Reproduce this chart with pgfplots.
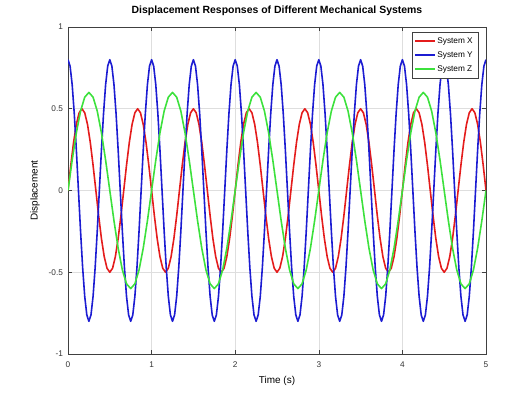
\documentclass[border=0pt]{standalone}
\usepackage{fontspec}
\setmainfont{Liberation Sans}
\usepackage{pgfplots}
\pgfplotsset{compat=1.18}
\definecolor{sysred}{RGB}{228,28,28}
\definecolor{sysblue}{RGB}{28,28,210}
\definecolor{sysgreen}{RGB}{60,225,60}
\begin{document}
\begin{tikzpicture}
\begin{axis}[
  scale only axis, width=418bp, height=327bp,
  xmin=0, xmax=5, ymin=-1, ymax=1,
  xtick={0,1,2,3,4,5}, xticklabels={0,1,2,3,4,5},
  ytick={-1,-0.5,0,0.5,1}, yticklabels={-1,-0.5,0,0.5,1},
  tick align=inside, major tick length=4bp,
  grid=major, grid style={black!13, line width=0.5pt},
  axis line style={black!75, line width=0.6pt},
  tick style={black!75, line width=0.6pt},
  ticklabel style={font=\fontsize{8.3}{9}\selectfont, text=black!80},
  xticklabel style={yshift=-4.5bp},
  yticklabel style={xshift=-1.5bp},
  xlabel={Time (s)}, ylabel={Displacement},
  label style={font=\fontsize{10}{12}\selectfont},
  xlabel style={at={(0.5,0)}, anchor=base, yshift=-29bp},
  ylabel style={at={(0,0.5)}, anchor=center, xshift=0bp, yshift=33bp},
  title={Displacement Responses of Different Mechanical Systems},
  title style={font=\bfseries\fontsize{10.5}{12}\selectfont, at={(0.5,1)}, anchor=base, yshift=8bp},
  legend style={at={(1,1)}, anchor=north east, xshift=-8bp, yshift=-5bp,
    font=\fontsize{8.3}{9}\selectfont, draw=black!75, line width=0.5pt,
    inner xsep=3pt, inner ysep=3pt, row sep=3pt},
  legend cell align=left,
  legend image code/.code={\fill[#1, draw=none] (0bp,-1bp) rectangle (20bp,1bp);},
]
\addplot[color=sysred, line width=1.6pt, line join=round] coordinates {
(0,0)(0.0333,0.1545)(0.0667,0.2939)(0.1,0.4045)(0.1333,0.4755)(0.1667,0.5)(0.2,0.4755)(0.2333,0.4045)(0.2667,0.2939)(0.3,0.1545)
(0.3333,0)(0.3667,-0.1545)(0.4,-0.2939)(0.4333,-0.4045)(0.4667,-0.4755)(0.5,-0.5)(0.5333,-0.4755)(0.5667,-0.4045)(0.6,-0.2939)(0.6333,-0.1545)
(0.6667,0)(0.7,0.1545)(0.7333,0.2939)(0.7667,0.4045)(0.8,0.4755)(0.8333,0.5)(0.8667,0.4755)(0.9,0.4045)(0.9333,0.2939)(0.9667,0.1545)
(1,0)(1.0333,-0.1545)(1.0667,-0.2939)(1.1,-0.4045)(1.1333,-0.4755)(1.1667,-0.5)(1.2,-0.4755)(1.2333,-0.4045)(1.2667,-0.2939)(1.3,-0.1545)
(1.3333,0)(1.3667,0.1545)(1.4,0.2939)(1.4333,0.4045)(1.4667,0.4755)(1.5,0.5)(1.5333,0.4755)(1.5667,0.4045)(1.6,0.2939)(1.6333,0.1545)
(1.6667,0)(1.7,-0.1545)(1.7333,-0.2939)(1.7667,-0.4045)(1.8,-0.4755)(1.8333,-0.5)(1.8667,-0.4755)(1.9,-0.4045)(1.9333,-0.2939)(1.9667,-0.1545)
(2,0)(2.0333,0.1545)(2.0667,0.2939)(2.1,0.4045)(2.1333,0.4755)(2.1667,0.5)(2.2,0.4755)(2.2333,0.4045)(2.2667,0.2939)(2.3,0.1545)
(2.3333,0)(2.3667,-0.1545)(2.4,-0.2939)(2.4333,-0.4045)(2.4667,-0.4755)(2.5,-0.5)(2.5333,-0.4755)(2.5667,-0.4045)(2.6,-0.2939)(2.6333,-0.1545)
(2.6667,0)(2.7,0.1545)(2.7333,0.2939)(2.7667,0.4045)(2.8,0.4755)(2.8333,0.5)(2.8667,0.4755)(2.9,0.4045)(2.9333,0.2939)(2.9667,0.1545)
(3,0)(3.0333,-0.1545)(3.0667,-0.2939)(3.1,-0.4045)(3.1333,-0.4755)(3.1667,-0.5)(3.2,-0.4755)(3.2333,-0.4045)(3.2667,-0.2939)(3.3,-0.1545)
(3.3333,0)(3.3667,0.1545)(3.4,0.2939)(3.4333,0.4045)(3.4667,0.4755)(3.5,0.5)(3.5333,0.4755)(3.5667,0.4045)(3.6,0.2939)(3.6333,0.1545)
(3.6667,0)(3.7,-0.1545)(3.7333,-0.2939)(3.7667,-0.4045)(3.8,-0.4755)(3.8333,-0.5)(3.8667,-0.4755)(3.9,-0.4045)(3.9333,-0.2939)(3.9667,-0.1545)
(4,0)(4.0333,0.1545)(4.0667,0.2939)(4.1,0.4045)(4.1333,0.4755)(4.1667,0.5)(4.2,0.4755)(4.2333,0.4045)(4.2667,0.2939)(4.3,0.1545)
(4.3333,0)(4.3667,-0.1545)(4.4,-0.2939)(4.4333,-0.4045)(4.4667,-0.4755)(4.5,-0.5)(4.5333,-0.4755)(4.5667,-0.4045)(4.6,-0.2939)(4.6333,-0.1545)
(4.6667,0)(4.7,0.1545)(4.7333,0.2939)(4.7667,0.4045)(4.8,0.4755)(4.8333,0.5)(4.8667,0.4755)(4.9,0.4045)(4.9333,0.2939)(4.9667,0.1545)
(5,0)
};
\addlegendentry{System X}
\addplot[color=sysblue, line width=1.6pt, line join=round] coordinates {
(0,0.8)(0.025,0.7608)(0.05,0.6472)(0.075,0.4702)(0.1,0.2472)(0.125,0)(0.15,-0.2472)(0.175,-0.4702)(0.2,-0.6472)(0.225,-0.7608)(0.25,-0.8)(0.275,-0.7608)(0.3,-0.6472)(0.325,-0.4702)(0.35,-0.2472)(0.375,0)(0.4,0.2472)(0.425,0.4702)(0.45,0.6472)(0.475,0.7608)
(0.5,0.8)(0.525,0.7608)(0.55,0.6472)(0.575,0.4702)(0.6,0.2472)(0.625,0)(0.65,-0.2472)(0.675,-0.4702)(0.7,-0.6472)(0.725,-0.7608)(0.75,-0.8)(0.775,-0.7608)(0.8,-0.6472)(0.825,-0.4702)(0.85,-0.2472)(0.875,0)(0.9,0.2472)(0.925,0.4702)(0.95,0.6472)(0.975,0.7608)
(1,0.8)(1.025,0.7608)(1.05,0.6472)(1.075,0.4702)(1.1,0.2472)(1.125,0)(1.15,-0.2472)(1.175,-0.4702)(1.2,-0.6472)(1.225,-0.7608)(1.25,-0.8)(1.275,-0.7608)(1.3,-0.6472)(1.325,-0.4702)(1.35,-0.2472)(1.375,0)(1.4,0.2472)(1.425,0.4702)(1.45,0.6472)(1.475,0.7608)
(1.5,0.8)(1.525,0.7608)(1.55,0.6472)(1.575,0.4702)(1.6,0.2472)(1.625,0)(1.65,-0.2472)(1.675,-0.4702)(1.7,-0.6472)(1.725,-0.7608)(1.75,-0.8)(1.775,-0.7608)(1.8,-0.6472)(1.825,-0.4702)(1.85,-0.2472)(1.875,0)(1.9,0.2472)(1.925,0.4702)(1.95,0.6472)(1.975,0.7608)
(2,0.8)(2.025,0.7608)(2.05,0.6472)(2.075,0.4702)(2.1,0.2472)(2.125,0)(2.15,-0.2472)(2.175,-0.4702)(2.2,-0.6472)(2.225,-0.7608)(2.25,-0.8)(2.275,-0.7608)(2.3,-0.6472)(2.325,-0.4702)(2.35,-0.2472)(2.375,0)(2.4,0.2472)(2.425,0.4702)(2.45,0.6472)(2.475,0.7608)
(2.5,0.8)(2.525,0.7608)(2.55,0.6472)(2.575,0.4702)(2.6,0.2472)(2.625,0)(2.65,-0.2472)(2.675,-0.4702)(2.7,-0.6472)(2.725,-0.7608)(2.75,-0.8)(2.775,-0.7608)(2.8,-0.6472)(2.825,-0.4702)(2.85,-0.2472)(2.875,0)(2.9,0.2472)(2.925,0.4702)(2.95,0.6472)(2.975,0.7608)
(3,0.8)(3.025,0.7608)(3.05,0.6472)(3.075,0.4702)(3.1,0.2472)(3.125,0)(3.15,-0.2472)(3.175,-0.4702)(3.2,-0.6472)(3.225,-0.7608)(3.25,-0.8)(3.275,-0.7608)(3.3,-0.6472)(3.325,-0.4702)(3.35,-0.2472)(3.375,0)(3.4,0.2472)(3.425,0.4702)(3.45,0.6472)(3.475,0.7608)
(3.5,0.8)(3.525,0.7608)(3.55,0.6472)(3.575,0.4702)(3.6,0.2472)(3.625,0)(3.65,-0.2472)(3.675,-0.4702)(3.7,-0.6472)(3.725,-0.7608)(3.75,-0.8)(3.775,-0.7608)(3.8,-0.6472)(3.825,-0.4702)(3.85,-0.2472)(3.875,0)(3.9,0.2472)(3.925,0.4702)(3.95,0.6472)(3.975,0.7608)
(4,0.8)(4.025,0.7608)(4.05,0.6472)(4.075,0.4702)(4.1,0.2472)(4.125,0)(4.15,-0.2472)(4.175,-0.4702)(4.2,-0.6472)(4.225,-0.7608)(4.25,-0.8)(4.275,-0.7608)(4.3,-0.6472)(4.325,-0.4702)(4.35,-0.2472)(4.375,0)(4.4,0.2472)(4.425,0.4702)(4.45,0.6472)(4.475,0.7608)
(4.5,0.8)(4.525,0.7608)(4.55,0.6472)(4.575,0.4702)(4.6,0.2472)(4.625,0)(4.65,-0.2472)(4.675,-0.4702)(4.7,-0.6472)(4.725,-0.7608)(4.75,-0.8)(4.775,-0.7608)(4.8,-0.6472)(4.825,-0.4702)(4.85,-0.2472)(4.875,0)(4.9,0.2472)(4.925,0.4702)(4.95,0.6472)(4.975,0.7608)
(5,0.8)
};
\addlegendentry{System Y}
\addplot[color=sysgreen, line width=1.6pt, line join=round] coordinates {
(0,0)(0.05,0.1854)(0.1,0.3527)(0.15,0.4854)(0.2,0.5706)(0.25,0.6)(0.3,0.5706)(0.35,0.4854)(0.4,0.3527)(0.45,0.1854)(0.5,0)(0.55,-0.1854)(0.6,-0.3527)(0.65,-0.4854)(0.7,-0.5706)(0.75,-0.6)(0.8,-0.5706)(0.85,-0.4854)(0.9,-0.3527)(0.95,-0.1854)
(1,0)(1.05,0.1854)(1.1,0.3527)(1.15,0.4854)(1.2,0.5706)(1.25,0.6)(1.3,0.5706)(1.35,0.4854)(1.4,0.3527)(1.45,0.1854)(1.5,0)(1.55,-0.1854)(1.6,-0.3527)(1.65,-0.4854)(1.7,-0.5706)(1.75,-0.6)(1.8,-0.5706)(1.85,-0.4854)(1.9,-0.3527)(1.95,-0.1854)
(2,0)(2.05,0.1854)(2.1,0.3527)(2.15,0.4854)(2.2,0.5706)(2.25,0.6)(2.3,0.5706)(2.35,0.4854)(2.4,0.3527)(2.45,0.1854)(2.5,0)(2.55,-0.1854)(2.6,-0.3527)(2.65,-0.4854)(2.7,-0.5706)(2.75,-0.6)(2.8,-0.5706)(2.85,-0.4854)(2.9,-0.3527)(2.95,-0.1854)
(3,0)(3.05,0.1854)(3.1,0.3527)(3.15,0.4854)(3.2,0.5706)(3.25,0.6)(3.3,0.5706)(3.35,0.4854)(3.4,0.3527)(3.45,0.1854)(3.5,0)(3.55,-0.1854)(3.6,-0.3527)(3.65,-0.4854)(3.7,-0.5706)(3.75,-0.6)(3.8,-0.5706)(3.85,-0.4854)(3.9,-0.3527)(3.95,-0.1854)
(4,0)(4.05,0.1854)(4.1,0.3527)(4.15,0.4854)(4.2,0.5706)(4.25,0.6)(4.3,0.5706)(4.35,0.4854)(4.4,0.3527)(4.45,0.1854)(4.5,0)(4.55,-0.1854)(4.6,-0.3527)(4.65,-0.4854)(4.7,-0.5706)(4.75,-0.6)(4.8,-0.5706)(4.85,-0.4854)(4.9,-0.3527)(4.95,-0.1854)
(5,0)
};
\addlegendentry{System Z}
\coordinate (sw) at (rel axis cs:0,0);
\end{axis}
\pgfresetboundingbox
\path (sw) ++(-68bp,-43bp) rectangle ++(527bp,397bp);
\end{tikzpicture}
\end{document}
